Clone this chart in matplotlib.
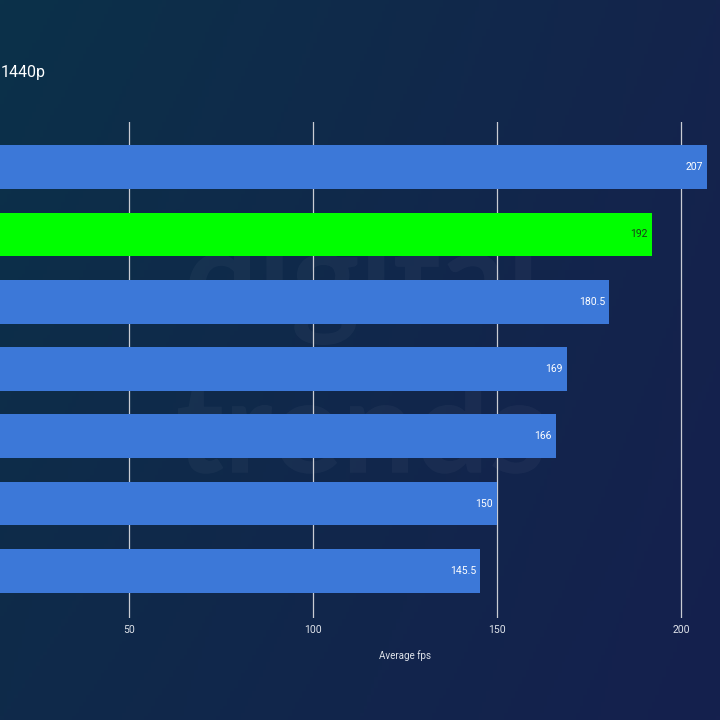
import numpy as np
import matplotlib
matplotlib.use("Agg")
import matplotlib.pyplot as plt
from matplotlib.textpath import TextPath
from matplotlib.patches import PathPatch
from matplotlib.font_manager import FontProperties
from matplotlib.transforms import Affine2D

# ---- data ----
values = [207, 192, 180.5, 169, 166, 150, 145.5]
value_labels = ["207", "192", "180.5", "169", "166", "150", "145.5"]
highlight = [False, True, False, False, False, False, False]
xticks = [50, 100, 150, 200]
title = "1440p"
xlabel = "Average fps"

plt.rcParams["font.family"] = ["Roboto", "DejaVu Sans"]

W = H = 720
fig = plt.figure(figsize=(7.2, 7.2), dpi=100)

# background gradient
bg = fig.add_axes([0, 0, 1, 1], zorder=0)
tl = np.array([11, 49, 73]) / 255
tr = np.array([20, 36, 76]) / 255
bl = np.array([15, 42, 74]) / 255
br = np.array([21, 32, 78]) / 255
u = np.linspace(0, 1, 200)[None, :, None]
v = np.linspace(0, 1, 200)[:, None, None]
img = (tl * (1 - u) * (1 - v) + tr * u * (1 - v) + bl * (1 - u) * v + br * u * v)
bg.imshow(img, extent=[0, W, 0, H], aspect="auto", origin="upper")
bg.set_xlim(0, W)
bg.set_ylim(0, H)
bg.set_axis_off()

# faint watermark logo drawn as a shape
fp = FontProperties(family="Lato", weight="bold")
for word, cy in (("digital", 285), ("trends", 425)):
    tp = TextPath((0, 0), word, size=130, prop=fp)
    ext = tp.get_extents()
    tr_ = Affine2D().translate(-(ext.x0 + ext.x1) / 2, -(ext.y0 + ext.y1) / 2).translate(360, H - cy)
    bg.add_patch(PathPatch(tr_.transform_path(tp), facecolor="white", edgecolor="none", alpha=0.035))

# chart axes positioned in pixel space
px_per_unit = 184 / 50.0
x0_px = 129 - 50 * px_per_unit  # pixel of value 0
right_px = W
top_px, bot_px = 122, 618
ax = fig.add_axes([x0_px / W, 1 - bot_px / H, (right_px - x0_px) / W, (bot_px - top_px) / H], zorder=1)
ax.patch.set_alpha(0)
ax.set_xlim(0, (right_px - x0_px) / px_per_unit)
ax.set_ylim(6.7, -0.67)

ypos = np.arange(len(values))
colors = ["#00ff00" if h else "#3c78d8" for h in highlight]
ax.barh(ypos, values, height=0.65, color=colors, zorder=3)

for y, val, lab, h in zip(ypos, values, value_labels, highlight):
    ax.text(val - 1.1, y, lab, ha="right", va="center", fontsize=7.5,
            color="#1b3a1b" if h else "white", zorder=4)

ax.set_xticks(xticks)
ax.set_xticklabels([str(t) for t in xticks], color="#dfe3ea", fontsize=7.5)
ax.tick_params(axis="x", length=0, pad=5)
ax.set_yticks([])
ax.grid(axis="x", color="#c9ccd3", linewidth=0.9, zorder=1)
ax.set_axisbelow(True)
for s in ax.spines.values():
    s.set_visible(False)

ax.set_xlabel(xlabel, color="#dfe3ea", fontsize=7, labelpad=10)
ax.xaxis.set_label_coords((405 - x0_px) / (right_px - x0_px), -(650 - bot_px) / (bot_px - top_px))

fig.text(1 / W, 1 - 72 / H, title, fontsize=11.5, color="white", ha="left", va="center", zorder=2)

fig.savefig("out.png", dpi=100)
